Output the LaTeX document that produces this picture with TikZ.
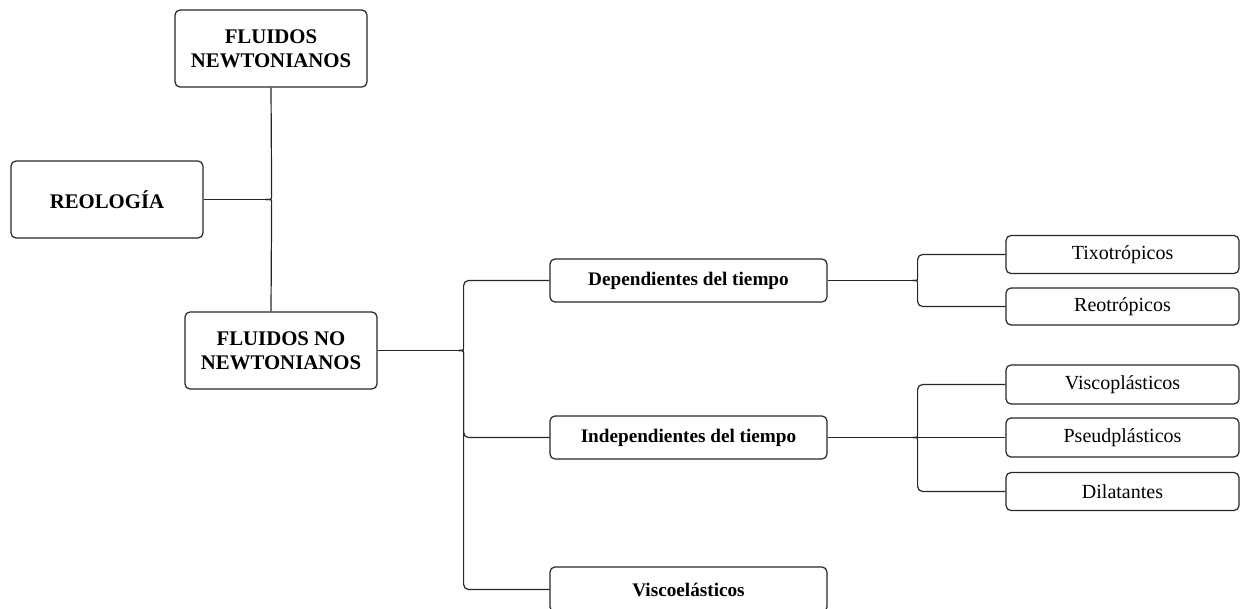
\documentclass[tikz,border=0pt]{standalone}
\usepackage{fontspec}
\setmainfont{Liberation Serif}
\begin{document}
\begin{tikzpicture}[x=1pt,y=-1pt,
  box/.style={draw=black!85, rounded corners=5pt, line width=1.2pt, inner sep=0pt, align=center},
  big/.style={box, minimum width=192pt, minimum height=77pt, font=\fontsize{20.8}{24}\selectfont\bfseries},
  mid/.style={box, minimum width=277pt, minimum height=43pt, font=\fontsize{19.2}{22}\selectfont\bfseries},
  leaf/.style={box, minimum width=233pt, minimum height=38pt, font=\fontsize{20}{22}\selectfont},
  conn/.style={draw=black!85, line width=1.2pt, rounded corners=5pt}]
\useasboundingbox (0,0) rectangle (1241,609);

\node[big] (fn) at (271,48.5) {FLUIDOS\\NEWTONIANOS};
\node[big] (reo) at (107,199.5) {REOLOGÍA};
\node[big] (fnn) at (281,350.5) {FLUIDOS NO\\NEWTONIANOS};

\node[mid] (dep) at (688.5,280.5) {Dependientes del tiempo};
\node[mid] (ind) at (688.5,437.5) {Independientes del tiempo};
\node[mid, minimum height=45pt] (vis) at (688.5,589.5) {Viscoelásticos};

\node[leaf] (tix) at (1122.5,254.5) {Tixotrópicos};
\node[leaf, minimum height=37pt] (reot) at (1122.5,306.5) {Reotrópicos};
\node[leaf, minimum height=39pt] (viscop) at (1122.5,384.5) {Viscoplásticos};
\node[leaf, minimum height=39pt] (pseud) at (1122.5,437.5) {Pseudplásticos};
\node[leaf] (dil) at (1122.5,491.5) {Dilatantes};

% brace 1
\coordinate (t1) at ([xshift=62pt]reo.east);
\draw[conn] (reo.east) -- (t1);
\draw[conn] (fn.south) -- ([xshift=6pt,yshift=7pt]t1) .. controls ([xshift=6pt]t1) .. (t1);
\draw[conn] (t1) .. controls ([xshift=6pt]t1) .. ([xshift=6pt,yshift=-7pt]t1) -- (fn.south |- fnn.north);

% brace 2
\coordinate (t2) at ([xshift=81pt]fnn.east);
\draw[conn] (fnn.east) -- (t2);
\draw[conn] (t2) .. controls ([xshift=5pt]t2) .. ([xshift=5pt,yshift=7pt]t2) -- ([xshift=5pt]t2 |- dep.west) -- (dep.west);
\draw[conn] (t2) .. controls ([xshift=5pt]t2) .. ([xshift=5pt,yshift=-7pt]t2) -- ([xshift=5pt]t2 |- ind.west) -- (ind.west);
\draw[conn] (t2) .. controls ([xshift=5pt]t2) .. ([xshift=5pt,yshift=-7pt]t2) -- ([xshift=5pt]t2 |- vis.west) -- (vis.west);

% brace 3
\coordinate (t3) at ([xshift=85pt]dep.east);
\draw[conn] (dep.east) -- (t3);
\draw[conn] (t3) .. controls ([xshift=5pt]t3) .. ([xshift=5pt,yshift=7pt]t3) -- ([xshift=5pt]t3 |- tix.west) -- (tix.west);
\draw[conn] (t3) .. controls ([xshift=5pt]t3) .. ([xshift=5pt,yshift=-7pt]t3) -- ([xshift=5pt]t3 |- reot.west) -- (reot.west);

% brace 4
\coordinate (t4) at ([xshift=85pt]ind.east);
\draw[conn] (ind.east) -- (pseud.west);
\draw[conn] (t4) .. controls ([xshift=5pt]t4) .. ([xshift=5pt,yshift=7pt]t4) -- ([xshift=5pt]t4 |- viscop.west) -- (viscop.west);
\draw[conn] (t4) .. controls ([xshift=5pt]t4) .. ([xshift=5pt,yshift=-7pt]t4) -- ([xshift=5pt]t4 |- dil.west) -- (dil.west);
\end{tikzpicture}
\end{document}
